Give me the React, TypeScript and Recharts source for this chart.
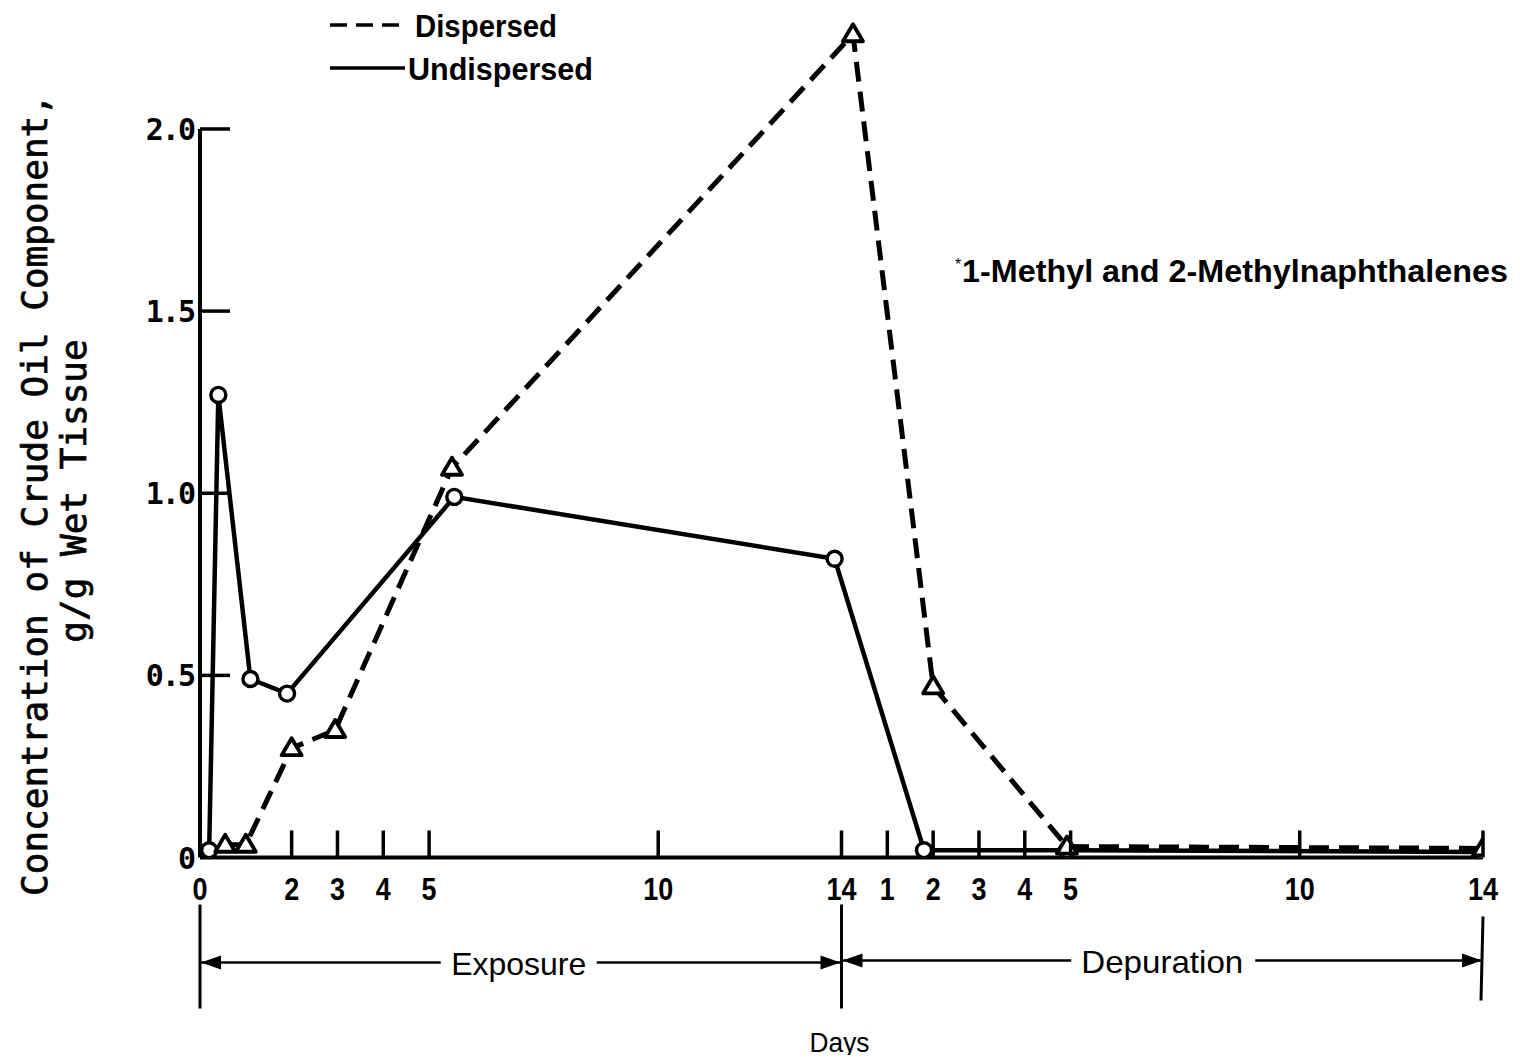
import React from 'react';
import { LineChart, Line, XAxis, YAxis, ReferenceLine } from 'recharts';

// ---- data (days: exposure 0-14, depuration shown as 14 + depuration day) ----
const undispersedDays = [0.2, 0.4, 1.1, 1.9, 5.55, 13.85, 15.8, 18.92, 28];
const undispersedValues = [0.02, 1.27, 0.49, 0.45, 0.99, 0.82, 0.02, 0.02, 0.015];
const dispersedDays = [0.55, 1.0, 2.0, 2.95, 5.5, 14.25, 16.0, 18.92, 28];
const dispersedValues = [0.035, 0.035, 0.3, 0.35, 1.07, 2.26, 0.47, 0.03, 0.025];

const xTicks = [0, 2, 3, 4, 5, 10, 14, 15, 16, 17, 18, 19, 24, 28];
const xTickLabels = ['0', '2', '3', '4', '5', '10', '14', '1', '2', '3', '4', '5', '10', '14'];
const yTicks = [0, 0.5, 1.0, 1.5, 2.0];
const yTickLabels = ['0', '0.5', '1.0', '1.5', '2.0'];

const exposureDays = 14;
const totalDays = 28;

const undispersedData = undispersedDays.map((d, i) => ({ day: d, value: undispersedValues[i] }));
const dispersedData = dispersedDays.map((d, i) => ({ day: d, value: dispersedValues[i] }));

const SANS = "'Liberation Sans', Arial, sans-serif";
const MONO = "'DejaVu Sans Mono', 'Liberation Mono', monospace";

const XTick = (props: any) => {
  const { x, y, payload } = props;
  const v = payload.value;
  const idx = xTicks.indexOf(v);
  const label = xTickLabels[idx];
  return (
    <g>
      {v !== 0 && <line x1={x} x2={x} y1={y} y2={y - 27} stroke="#000" strokeWidth={3.5} />}
      <text
        x={x}
        y={y + 42}
        textAnchor="middle"
        fontFamily={SANS}
        fontWeight="bold"
        fontSize={31}
        fill="#000"
        textLength={label.length * 15}
        lengthAdjust="spacingAndGlyphs"
      >
        {label}
      </text>
    </g>
  );
};

const YTick = (props: any) => {
  const { x, y, payload } = props;
  const v = payload.value;
  const idx = yTicks.indexOf(v);
  return (
    <g>
      {v !== 0 && <line x1={x} x2={x + 30} y1={y} y2={y} stroke="#000" strokeWidth={3.5} />}
      <text x={x - 6} y={y + 11} textAnchor="end" fontFamily={MONO} fontWeight="bold" fontSize={30} letterSpacing={-2} fill="#000">
        {yTickLabels[idx]}
      </text>
    </g>
  );
};

const YTitle = () => (
  <g>
    <text x={39} y={487} transform="rotate(-90, 39, 487)" textAnchor="middle" fontFamily={MONO} fontSize={36} fill="#000" stroke="#000" strokeWidth={0.7}>
      Concentration of Crude Oil Component,
    </text>
    <text x={78} y={483} transform="rotate(-90, 78, 483)" textAnchor="middle" fontFamily={MONO} fontSize={36} fill="#000" stroke="#000" strokeWidth={0.7}>
      g/g Wet Tissue
    </text>
  </g>
);

const Circle = (props: any) => {
  const { cx, cy, index } = props;
  if (cx == null || cy == null) return <g key={`c-${index}`} />;
  return <circle key={`c-${index}`} cx={cx} cy={cy} r={7.5} fill="#fff" stroke="#000" strokeWidth={3.4} />;
};

const Triangle = (props: any) => {
  const { cx, cy, index } = props;
  if (cx == null || cy == null) return <g key={`t-${index}`} />;
  const pts = `${cx},${cy - 10} ${cx - 10},${cy + 7} ${cx + 10},${cy + 7}`;
  return <polygon key={`t-${index}`} points={pts} fill="#fff" stroke="#000" strokeWidth={3.8} strokeLinejoin="round" />;
};

const ArrowHead = ({ x, y, dir }: { x: number; y: number; dir: number }) => (
  <polygon points={`${x},${y} ${x - dir * 20},${y - 7} ${x - dir * 20},${y + 7}`} fill="#000" />
);

const Txt = (p: any) => (
  <text
    x={p.x}
    y={p.y}
    textAnchor={p.anchor || 'start'}
    fontFamily={SANS}
    fontWeight={p.bold ? 'bold' : 'normal'}
    fontSize={p.size}
    fill="#000"
    textLength={p.len}
    lengthAdjust="spacingAndGlyphs"
  >
    {p.children}
  </text>
);

// Decorations anchored on the x axis endpoints (day 0 and day 28 at value 0)
const Decorations = (p: any) => {
  const x0 = p.x1;
  const xEnd = p.x2;
  const y0 = p.y1;
  const px = (d: number) => x0 + (d / totalDays) * (xEnd - x0);
  const xMid = px(exposureDays);
  const arrowY = y0 + 105;
  const barTop = y0 + 47;
  const barBottom = y0 + 151;
  const expC = px(exposureDays / 2) - 2;
  const depC = px((exposureDays + totalDays) / 2);
  return (
    <g>
      {/* bars */}
      <line x1={x0} x2={x0} y1={barTop} y2={barBottom} stroke="#000" strokeWidth={3} />
      <line x1={xMid} x2={xMid} y1={barTop} y2={barBottom} stroke="#000" strokeWidth={3} />
      <line x1={xEnd} x2={xEnd - 2} y1={barTop + 12} y2={barBottom - 8} stroke="#000" strokeWidth={3} />
      {/* exposure */}
      <line x1={x0} x2={expC - 78} y1={arrowY} y2={arrowY} stroke="#000" strokeWidth={2.5} />
      <line x1={expC + 78} x2={xMid} y1={arrowY} y2={arrowY} stroke="#000" strokeWidth={2.5} />
      <ArrowHead x={x0 + 1} y={arrowY} dir={-1} />
      <ArrowHead x={xMid - 1} y={arrowY} dir={1} />
      <Txt x={expC} y={arrowY + 12} anchor="middle" size={32} len={135}>Exposure</Txt>
      {/* depuration */}
      <line x1={xMid} x2={depC - 91} y1={arrowY - 2} y2={arrowY - 2} stroke="#000" strokeWidth={2.5} />
      <line x1={depC + 93} x2={xEnd} y1={arrowY - 2} y2={arrowY - 2} stroke="#000" strokeWidth={2.5} />
      <ArrowHead x={xMid + 1} y={arrowY - 2} dir={-1} />
      <ArrowHead x={xEnd - 1} y={arrowY - 2} dir={1} />
      <Txt x={depC} y={arrowY + 10} anchor="middle" size={32} len={162}>Depuration</Txt>
      <Txt x={xMid - 2} y={y0 + 194} anchor="middle" size={28} len={60}>Days</Txt>
      {/* legend */}
      <line x1={322} x2={392} y1={17} y2={17} stroke="#000" strokeWidth={3.5} strokeDasharray="17 9" />
      <Txt x={407} y={29} size={32} bold len={142}>Dispersed</Txt>
      <line x1={322} x2={397} y1={60} y2={60} stroke="#000" strokeWidth={3.5} />
      <Txt x={400} y={72} size={32} bold len={185}>Undispersed</Txt>
      {/* annotation */}
      <text x={947} y={262} fontFamily={SANS} fontSize={16} fill="#000">*</text>
      <Txt x={954} y={274} size={32} bold len={546}>1-Methyl and 2-Methylnaphthalenes</Txt>
    </g>
  );
};

export default function App() {
  return (
    <div style={{ width: 1504, height: 1047 }}>
      <style>{'.recharts-surface{overflow:visible}'}</style>
      <LineChart width={1504} height={1047} margin={{ top: 11.7, right: 29, bottom: 137.5, left: 132 }}>
        <XAxis
          type="number"
          dataKey="day"
          domain={[0, totalDays]}
          ticks={xTicks}
          interval={0}
          tickSize={0}
          tickMargin={0}
          tick={XTick}
          tickLine={false}
          axisLine={{ stroke: '#000', strokeWidth: 4 }}
          height={60}
          allowDataOverflow
        />
        <YAxis
          type="number"
          domain={[0, 2.3]}
          ticks={yTicks}
          interval={0}
          width={60}
          tickSize={0}
          tickMargin={0}
          tick={YTick}
          tickLine={false}
          axisLine={false}
          label={<YTitle />}
          allowDataOverflow
        />
        <ReferenceLine
          segment={[{ x: 0, y: 0 }, { x: 0, y: 2 }]}
          stroke="#000"
          strokeWidth={4}
          ifOverflow="visible"
        />
        <ReferenceLine
          segment={[{ x: 0, y: 0 }, { x: totalDays, y: 0 }]}
          ifOverflow="visible"
          shape={(p: any) => <Decorations {...p} />}
        />
        <Line
          data={undispersedData}
          dataKey="value"
          type="linear"
          name="Undispersed"
          stroke="#000"
          strokeWidth={4.5}
          dot={Circle}
          activeDot={false}
          isAnimationActive={false}
        />
        <Line
          data={dispersedData}
          dataKey="value"
          type="linear"
          name="Dispersed"
          stroke="#000"
          strokeWidth={5}
          strokeDasharray="20 10"
          dot={Triangle}
          activeDot={false}
          isAnimationActive={false}
        />
      </LineChart>
    </div>
  );
}
